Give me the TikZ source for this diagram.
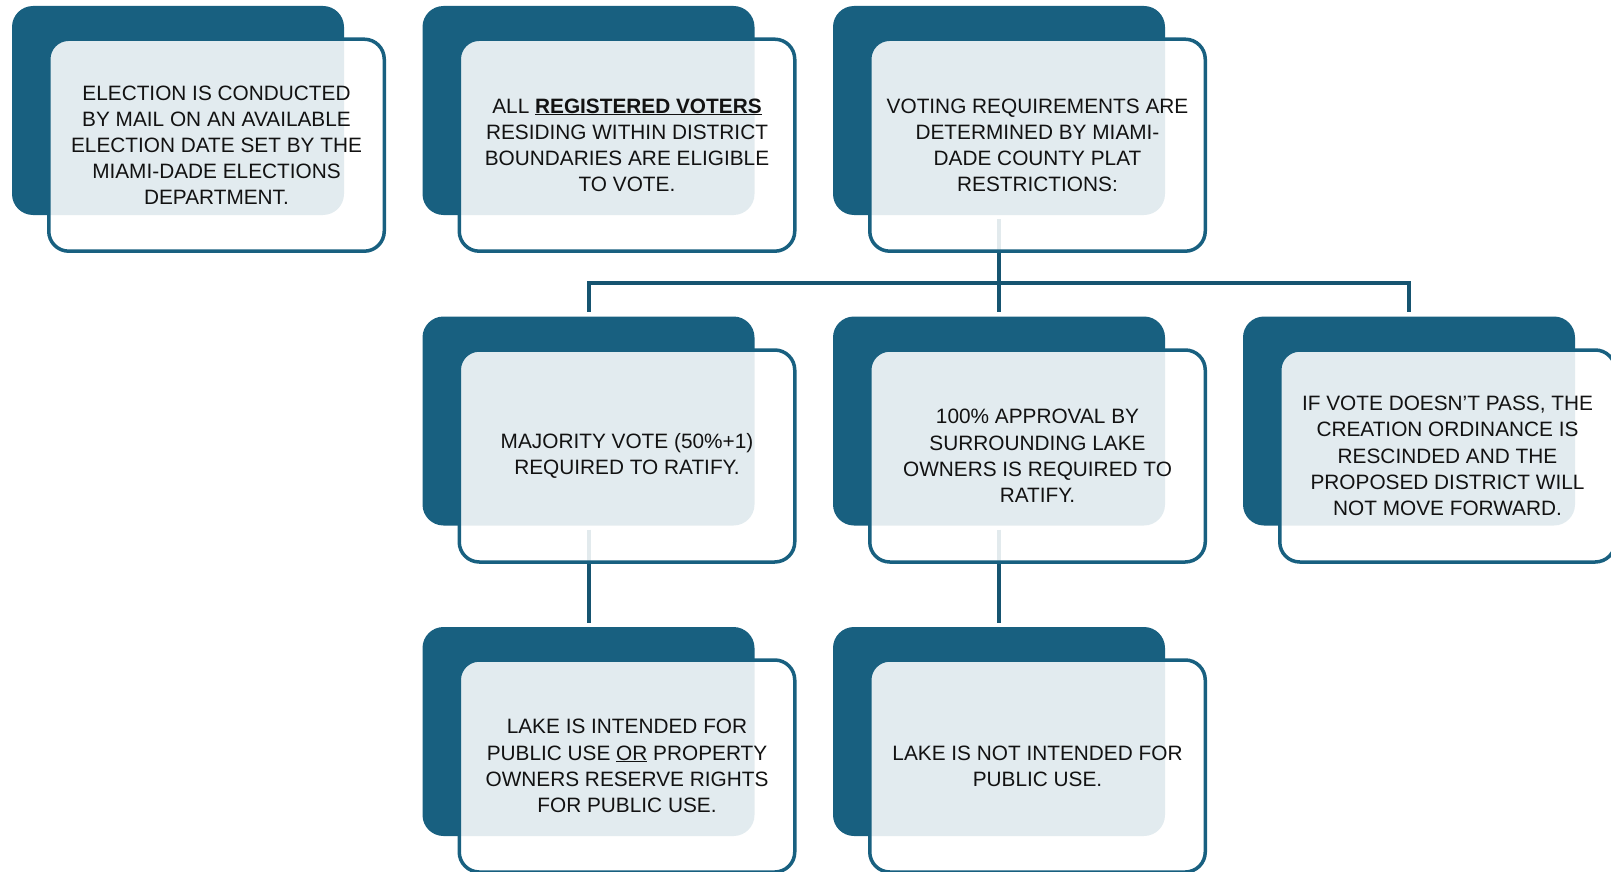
\documentclass[tikz,border=0pt]{standalone}
\usepackage{fontspec}
\setmainfont{Liberation Sans}
\definecolor{navy}{RGB}{24,96,128}
\definecolor{navyd}{RGB}{22,84,112}
\definecolor{ink}{RGB}{18,18,18}
\begin{document}
\begin{tikzpicture}[x=1pt,y=-1pt,
  back/.style={draw=none, fill=navy, rounded corners=21pt, minimum width=332pt, minimum height=209pt, inner sep=0pt, outer sep=0pt},
  front/.style={draw=navy, line width=3.5pt, fill=white, fill opacity=0.88, text opacity=1, rounded corners=20pt, minimum width=335.5pt, minimum height=212pt, inner sep=0pt, outer sep=0pt, align=center, font=\fontsize{20.8}{26.2}\selectfont, text=ink},
  conn/.style={draw=navyd, line width=4pt}]
\useasboundingbox (0,0) rectangle (1611,872);
\clip (0,0) rectangle (1611,872);
% back boxes
\node[back] (b11) at (178,110.5) {};
\node[back] (b12) at (588.5,110.5) {};
\node[back] (b13) at (999,110.5) {};
\node[back] (b22) at (588.5,421) {};
\node[back] (b23) at (999,421) {};
\node[back] (b24) at (1409,421) {};
\node[back] (b32) at (588.5,731.5) {};
\node[back] (b33) at (999,731.5) {};
% connectors
\draw[conn] ([yshift=-4pt]b13.south) -- ([yshift=5pt]b23.north);
\draw[conn] ([yshift=5pt]b22.north) -- ([yshift=34pt]b22.north) -- ([yshift=34pt]b24.north) -- ([yshift=5pt]b24.north);
\draw[conn] ([yshift=-4pt]b22.south) -- ([yshift=4pt]b32.north);
\draw[conn] ([yshift=-4pt]b23.south) -- ([yshift=4pt]b33.north);
% front boxes
\node[front] (f11) at (216.5,145.2) {ELECTION IS CONDUCTED\\BY MAIL ON AN AVAILABLE\\ELECTION DATE SET BY THE\\MIAMI-DADE ELECTIONS\\DEPARTMENT.};
\node[front] (f12) at (627,145.2) {ALL \underline{\textbf{REGISTERED VOTERS}}\\RESIDING WITHIN DISTRICT\\BOUNDARIES ARE ELIGIBLE\\TO VOTE.};
\node[front] (f13) at (1037.5,145.2) {VOTING REQUIREMENTS ARE\\DETERMINED BY MIAMI-\\DADE COUNTY PLAT\\RESTRICTIONS:};
\node[front] (f22) at (627,456) {MAJORITY VOTE (50\%+1)\\REQUIRED TO RATIFY.};
\node[front] (f23) at (1037.5,456) {100\% APPROVAL BY\\SURROUNDING LAKE\\OWNERS IS REQUIRED TO\\RATIFY.};
\node[front] (f24) at (1447.5,456) {IF VOTE DOESN’T PASS, THE\\CREATION ORDINANCE IS\\RESCINDED AND THE\\PROPOSED DISTRICT WILL\\NOT MOVE FORWARD.};
\node[front] (f32) at (627,766) {LAKE IS INTENDED FOR\\PUBLIC USE \underline{OR} PROPERTY\\OWNERS RESERVE RIGHTS\\FOR PUBLIC USE.};
\node[front] (f33) at (1037.5,766) {LAKE IS NOT INTENDED FOR\\PUBLIC USE.};
\end{tikzpicture}
\end{document}
